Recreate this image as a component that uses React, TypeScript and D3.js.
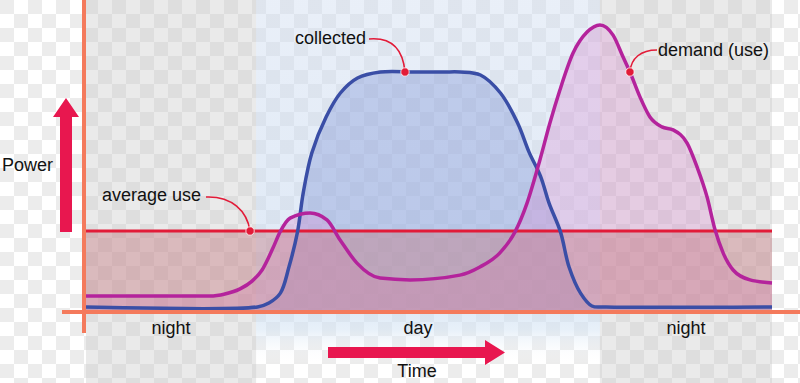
import React from "react";
import * as d3 from "d3";

// ---- data (hours of the day, power in arbitrary units 0..100) ----
const collectedHours = [0, 6, 6.4, 6.8, 7.1, 7.4, 7.6, 7.9, 8.4, 8.9, 9.5, 10.3, 11.5, 12.5, 13.1, 13.8, 14.5, 15.1, 15.5, 15.9, 16.2, 16.6, 16.9, 17.3, 17.7, 18.2, 24];
const collectedPower = [1.7, 1.7, 3, 6.3, 15, 26.7, 39.7, 53, 65, 73, 78, 80, 80, 80, 80, 79, 73, 63, 53.3, 45.3, 36.3, 26.7, 15, 6.3, 2, 1.7, 1.7];

const demandHours = [0, 4.34, 4.86, 5.39, 5.81, 6.16, 6.54, 6.79, 7.14, 7.84, 8.43, 8.89, 9.48, 10.29, 11.34, 13.08, 13.78, 14.48, 15.01, 15.43, 15.88, 16.23, 16.58, 17.04, 17.53, 17.98, 18.44, 18.79, 19.03, 19.38, 19.73, 20.15, 20.54, 21.03, 21.38, 21.73, 22.01, 22.29, 22.64, 23.23, 24];
const demandPower = [5.3, 5.3, 6, 7.7, 10.3, 14, 21.3, 26.7, 31.3, 33, 30.7, 24, 16.3, 11.3, 10.7, 12.3, 15, 19.7, 26.7, 36.3, 50.7, 63, 74, 86.3, 93.3, 95.7, 92.3, 85, 80, 71.7, 65, 61.7, 60.7, 56.3, 48.3, 38.3, 27.3, 19.7, 14, 10.7, 9.7];

const averageUse = 27;

const periods = ["night", "day", "night"];
const periodStart = [0, 5.95, 17.98];
const periodEnd = [5.95, 17.98, 24];

const annotations = ["collected", "demand (use)", "average use"];
const annotationHour = [11.16, 19.03, 5.74];
const annotationPower = [80, 80, 27];

const axisLabelY = "Power";
const axisLabelX = "Time";

const W = 800;
const H = 383;
const FONT = "'Liberation Sans', Arial, Helvetica, sans-serif";

export default function App() {
  const x = d3.scaleLinear().domain([0, 24]).range([86, 772]);
  const y = d3.scaleLinear().domain([0, 100]).range([312, 12]);

  const collected = collectedHours.map((h, i) => [h, collectedPower[i]] as [number, number]);
  const demand = demandHours.map((h, i) => [h, demandPower[i]] as [number, number]);

  const makeLine = (curve: any) =>
    d3
      .line<[number, number]>()
      .x((d) => x(d[0]))
      .y((d) => y(d[1]))
      .curve(curve);
  const makeArea = (curve: any) =>
    d3
      .area<[number, number]>()
      .x((d) => x(d[0]))
      .y0(y(0))
      .y1((d) => y(d[1]))
      .curve(curve);

  const blueCurve = d3.curveCatmullRom.alpha(0.5);
  const magCurve = d3.curveMonotoneX;

  const [x0, x1] = x.range();
  const yBase = y(0);
  const yAvg = y(averageUse);

  const ax = annotationHour.map((h) => x(h));
  const ay = annotationPower.map((p) => y(p));

  const red = "#e21b38";
  const arrow = "#e8174f";
  const axisCol = "#f47a5c";

  return (
    <svg
      width={W}
      height={H}
      style={{ position: "fixed", left: 0, top: 0, background: "#fff" }}
      fontFamily={FONT}
    >
      <defs>
        <pattern id="checker" width="28" height="28" patternUnits="userSpaceOnUse">
          <rect width="28" height="28" fill="#ffffff" />
          <rect width="14" height="14" fill="#ececec" />
          <rect x="14" y="14" width="14" height="14" fill="#ececec" />
        </pattern>
        <linearGradient id="dayGrad" x1="0" y1="0" x2="0" y2="1">
          <stop offset="0" stopColor="#cfdcf0" stopOpacity="0.45" />
          <stop offset="0.8" stopColor="#c8daf0" stopOpacity="0.6" />
          <stop offset="0.86" stopColor="#d4e4f4" stopOpacity="0.55" />
          <stop offset="0.95" stopColor="#ffffff" stopOpacity="0" />
        </linearGradient>
      </defs>
      <rect width={W} height={H} fill="url(#checker)" />

      {/* period panels */}
      {periods.map((p, i) =>
        p === "night" ? (
          <rect
            key={i}
            x={x(periodStart[i])}
            y={0}
            width={x(periodEnd[i]) - x(periodStart[i])}
            height={H}
            fill="#c8c8c8"
            opacity={0.38}
          />
        ) : (
          <rect
            key={i}
            x={x(periodStart[i])}
            y={0}
            width={x(periodEnd[i]) - x(periodStart[i])}
            height={H}
            fill="url(#dayGrad)"
          />
        )
      )}

      {/* fills */}
      <path d={makeArea(blueCurve)(collected) ?? ""} fill="#7f92d6" fillOpacity={0.38} />
      <path d={makeArea(magCurve)(demand) ?? ""} fill="#d98bd0" fillOpacity={0.32} />
      <rect x={x0} y={yAvg} width={x1 - x0} height={yBase - yAvg} fill="#c4787e" fillOpacity={0.42} />

      {/* average line */}
      <line x1={x0} x2={x1} y1={yAvg} y2={yAvg} stroke={red} strokeWidth={3} />

      {/* curves */}
      <path d={makeLine(blueCurve)(collected) ?? ""} fill="none" stroke="#3a4ea6" strokeWidth={3.5} />
      <path d={makeLine(magCurve)(demand) ?? ""} fill="none" stroke="#b4239c" strokeWidth={3.5} />

      {/* axes */}
      <line x1={84} x2={84} y1={0} y2={333} stroke={axisCol} strokeWidth={4} />
      <line x1={62} x2={W} y1={yBase} y2={yBase} stroke={axisCol} strokeWidth={4} />

      {/* annotations */}
      <path
        d={`M369,39 C392,37 403,50 ${ax[0]},${ay[0]}`}
        fill="none"
        stroke={red}
        strokeWidth={1.6}
      />
      <path
        d={`M657,50 C641,50 631,58 ${ax[1]},${ay[1]}`}
        fill="none"
        stroke={red}
        strokeWidth={1.6}
      />
      <path
        d={`M206,197 C232,196 247,211 ${ax[2]},${ay[2]}`}
        fill="none"
        stroke={red}
        strokeWidth={1.6}
      />
      {ax.map((v, i) => (
        <circle key={i} cx={v} cy={ay[i]} r={4.2} fill={red} stroke="#fff" strokeWidth={0.8} />
      ))}

      <g fontSize={18} fill="#111">
        <text x={295} y={44}>{annotations[0]}</text>
        <text x={658} y={56}>{annotations[1]}</text>
        <text x={102} y={201}>{annotations[2]}</text>
        {periods.map((p, i) => (
          <text key={i} x={(x(periodStart[i]) + x(periodEnd[i])) / 2 + (i === 1 ? -10 : 0)} y={334} textAnchor="middle">
            {p}
          </text>
        ))}
        <text x={2} y={171}>{axisLabelY}</text>
        <text x={417} y={377} textAnchor="middle">{axisLabelX}</text>
      </g>

      {/* arrows */}
      <polygon points="60,232 72,232 72,117 79,117 66,98 53,117 60,117" fill={arrow} />
      <polygon points="328,347 485,347 485,340 505,352.5 485,365 485,358 328,358" fill={arrow} />
    </svg>
  );
}
